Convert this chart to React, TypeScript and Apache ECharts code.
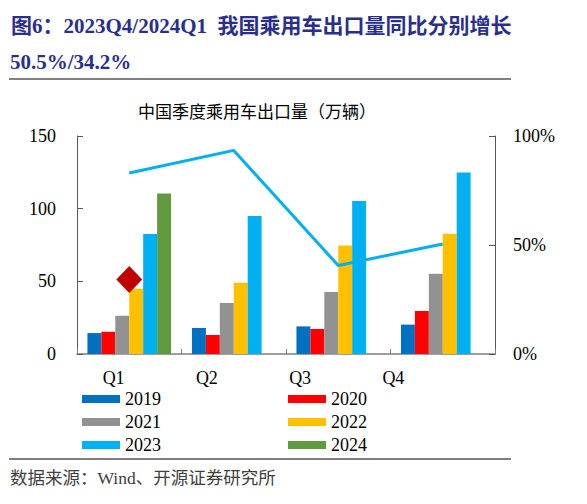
import React, { useEffect, useRef } from "react";
import * as echarts from "echarts";

const quarters = ["Q1", "Q2", "Q3", "Q4"];
const years = ["2019", "2020", "2021", "2022", "2023", "2024"];
const v2019 = [14.4, 17.9, 19.0, 20.2];
const v2020 = [15.3, 13.1, 17.2, 29.6];
const v2021 = [26.4, 35.1, 42.7, 55.3];
const v2022 = [44.9, 49.1, 74.7, 82.8];
const v2023 = [82.6, 95.0, 105.3, 124.8];
const v2024 = [110.5, null, null, null];
const yoy2023 = [83.0, 93.4, 40.6, 50.5];
const yoy2024 = [34.2, null, null, null];
const yearColors = ["#0070C0", "#FF0000", "#929292", "#FFC000", "#00B0F0", "#629B3F"];

const titleLine1 = "图6：2023Q4/2024Q1  我国乘用车出口量同比分别增长";
const titleLine2 = "50.5%/34.2%";
const subTitle = "中国季度乘用车出口量（万辆）";
const sourceText = "数据来源：Wind、开源证券研究所";

const SERIF = "'Liberation Serif', 'Times New Roman', 'Noto Sans CJK SC', serif";

export default function App() {
  const ref = useRef<HTMLDivElement>(null);
  useEffect(() => {
    if (!ref.current) return;
    const chart = echarts.init(ref.current, undefined, { renderer: "svg" });
    const values = [v2019, v2020, v2021, v2022, v2023, v2024];
    const barSeries = years.map((y, i) => ({
      name: y,
      type: "bar",
      xAxisIndex: 0,
      yAxisIndex: 0,
      data: values[i],
      barGap: "0%",
      barCategoryGap: "20%",
      itemStyle: { color: yearColors[i] },
    }));
    const legendText = { fontFamily: SERIF, fontSize: 18, color: "#000", lineHeight: 17 };
    chart.setOption({
      animation: false,
      backgroundColor: "#fff",
      title: [
        {
          text: titleLine1,
          left: 11,
          top: 15,
          padding: 0,
          textStyle: { fontFamily: SERIF, fontSize: 21, fontWeight: "bold", color: "#2A2E8C" },
        },
        {
          text: titleLine2,
          left: 10,
          top: 51,
          padding: 0,
          textStyle: { fontFamily: SERIF, fontSize: 21, fontWeight: "bold", color: "#2A2E8C" },
        },
        {
          text: subTitle,
          left: 257,
          textAlign: "center",
          top: 102,
          padding: 0,
          textStyle: { fontFamily: "'Noto Sans CJK SC', sans-serif", fontSize: 17, fontWeight: "normal", color: "#000" },
        },
        {
          text: sourceText,
          left: 10,
          top: 469,
          padding: 0,
          textStyle: { fontFamily: SERIF, fontSize: 17.5, fontWeight: "normal", color: "#404040" },
        },
      ],
      graphic: [
        { type: "line", shape: { x1: 9, y1: 79, x2: 511, y2: 79 }, style: { stroke: "#7F7F7F", lineWidth: 2 } },
        { type: "line", shape: { x1: 9, y1: 459, x2: 511, y2: 459 }, style: { stroke: "#7F7F7F", lineWidth: 2 } },
      ],
      legend: [
        {
          data: ["2019", "2021", "2023"],
          orient: "vertical",
          left: 82,
          top: 390,
          padding: 0,
          itemWidth: 38,
          itemHeight: 8,
          itemGap: 5,
          icon: "rect",
          textStyle: legendText,
        },
        {
          data: ["2020", "2022", "2024"],
          orient: "vertical",
          left: 288,
          top: 390,
          padding: 0,
          itemWidth: 38,
          itemHeight: 8,
          itemGap: 5,
          icon: "rect",
          textStyle: legendText,
        },
      ],
      grid: [
        { left: 77, right: 92, top: 136, bottom: 150 },
        { left: 67, width: 373, top: 136, bottom: 150 },
      ],
      xAxis: [
        {
          type: "category",
          gridIndex: 0,
          data: quarters,
          axisLine: { lineStyle: { color: "#808080", width: 1.5 } },
          axisTick: { show: true, inside: true, length: 5, lineStyle: { color: "#808080" } },
          axisLabel: { show: false },
        },
        {
          type: "category",
          gridIndex: 1,
          data: quarters,
          axisLine: { show: false },
          axisTick: { show: false },
          axisLabel: { margin: 15, fontFamily: SERIF, fontSize: 18, color: "#000" },
        },
      ],
      yAxis: [
        {
          type: "value",
          gridIndex: 0,
          min: 0,
          max: 150,
          interval: 50,
          splitLine: { show: false },
          axisLine: { show: true, lineStyle: { color: "#595959" } },
          axisTick: { show: true, inside: true, length: 6, lineStyle: { color: "#595959" } },
          axisLabel: { margin: 21, fontFamily: SERIF, fontSize: 18, color: "#000" },
        },
        {
          type: "value",
          gridIndex: 0,
          position: "right",
          min: 0,
          max: 100,
          interval: 50,
          splitLine: { show: false },
          axisLine: { show: true, lineStyle: { color: "#595959" } },
          axisTick: { show: true, inside: true, length: 6, lineStyle: { color: "#595959" } },
          axisLabel: { margin: 18, fontFamily: SERIF, fontSize: 18, color: "#000", formatter: "{value}%" },
        },
        { type: "value", gridIndex: 1, show: false, min: 0, max: 150 },
      ],
      series: [
        ...barSeries,
        {
          name: "2023同比",
          type: "line",
          xAxisIndex: 0,
          yAxisIndex: 1,
          data: yoy2023,
          symbol: "none",
          lineStyle: { color: "#00B0F0", width: 3 },
          itemStyle: { color: "#00B0F0" },
          z: 5,
        },
        {
          name: "2024同比",
          type: "scatter",
          xAxisIndex: 0,
          yAxisIndex: 1,
          data: yoy2024,
          symbol: "diamond",
          symbolSize: [26, 27],
          itemStyle: { color: "#C00000", opacity: 1 },
          z: 6,
        },
      ],
    });
    return () => chart.dispose();
  }, []);
  return <div ref={ref} style={{ position: "fixed", left: 0, top: 0, width: 587, height: 504 }} />;
}
